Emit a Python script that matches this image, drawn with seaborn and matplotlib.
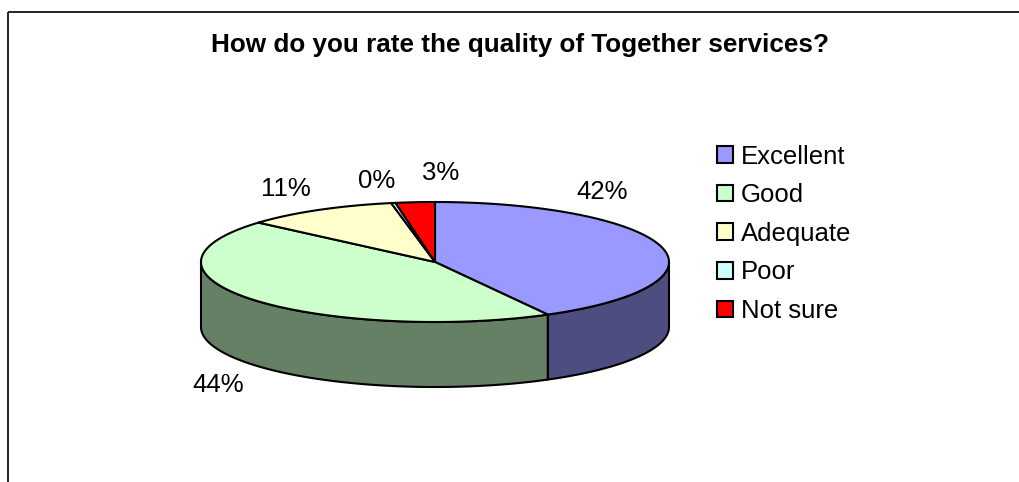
import numpy as np
import matplotlib
matplotlib.use("Agg")
import matplotlib.pyplot as plt
from matplotlib.patches import Polygon, Patch, Rectangle
from matplotlib.colors import to_rgb
import seaborn as sns

# Survey answers (share of respondents, %)
categories = ["Excellent", "Good", "Adequate", "Poor", "Not sure"]
shares = [42.0, 44.4, 10.6, 0.3, 2.7]
top_colors = ["#9999FF", "#CCFFCC", "#FFFFCC", "#CCFFFF", "#FF0000"]
title = "How do you rate the quality of Together services?"

sns.set_theme(style="white")
plt.rcParams["font.family"] = ["Liberation Sans", "DejaVu Sans"]
plt.rcParams["text.color"] = "black"

fig = plt.figure(figsize=(10.2, 4.82), dpi=100)
ax = fig.add_axes([0, 0, 1, 1])
ax.set_xlim(0, 1020)
ax.set_ylim(482, 0)
ax.axis("off")

# chart-area frame
ax.add_patch(Rectangle((8, 12), 1200, 600, fill=False, edgecolor="#111111",
                       linewidth=1.3, zorder=1))

ax.text(520, 52, title, ha="center", va="baseline", fontsize=18.8,
        fontweight="bold", color="black")

# 3D pie geometry (ellipse centre, semi-axes, wall depth)
cx, cy, rx, ry, depth = 435.0, 262.0, 234.0, 60.0, 65.0
edge = dict(edgecolor="black", linewidth=1.5, joinstyle="round")


def shade(c, f=0.5):
    r, g, b = to_rgb(c)
    return (r * f, g * f, b * f)


def arc(t1, t2, dy=0.0):
    n = max(int(abs(t2 - t1) * 2) + 2, 3)
    t = np.radians(np.linspace(t1, t2, n))
    return np.column_stack([cx + rx * np.cos(t), cy - ry * np.sin(t) + dy])


total = sum(shares)
spans = [s / total * 360.0 for s in shares]
starts = 90.0 - np.concatenate([[0.0], np.cumsum(spans)[:-1]])
ends = starts - np.array(spans)

# outer walls (only the front half of the pie is visible)
for s0, s1, col in zip(starts, ends, top_colors):
    for k in (-1, 0, 1):
        lo, hi = -180.0 + 360 * k, 0.0 + 360 * k
        a0, a1 = min(s0, hi), max(s1, lo)
        if a0 > a1:
            pts = np.vstack([arc(a0, a1), arc(a1, a0, depth)])
            ax.add_patch(Polygon(pts, closed=True, facecolor=shade(col),
                                 zorder=2, **edge))

# top faces
for s0, s1, col in zip(starts, ends, top_colors):
    pts = np.vstack([[cx, cy], arc(s0, s1)])
    ax.add_patch(Polygon(pts, closed=True, facecolor=col, zorder=3, **edge))

# percentage labels (centre x, baseline y)
label_xy = {"Excellent": (602, 199), "Good": (218, 392), "Adequate": (286, 196),
            "Poor": (377, 188), "Not sure": (441, 180)}
for cat, s in zip(categories, shares):
    x, y = label_xy[cat]
    ax.text(x, y, f"{round(s / total * 100):.0f}%", ha="center", va="baseline",
            fontsize=18.5, color="black", zorder=4)

handles = [Patch(facecolor=c, edgecolor="black", linewidth=1.5) for c in top_colors]
leg = ax.legend(handles, categories, loc="upper left",
                bbox_to_anchor=(717 / 1020, 1 - 144.5 / 482),
                bbox_transform=fig.transFigure, frameon=False, fontsize=18.5,
                labelcolor="black",
                handlelength=0.62, handleheight=0.62, handletextpad=0.3,
                labelspacing=0.57, borderpad=0.0, borderaxespad=0.0)

fig.savefig("out.png", dpi=100)
